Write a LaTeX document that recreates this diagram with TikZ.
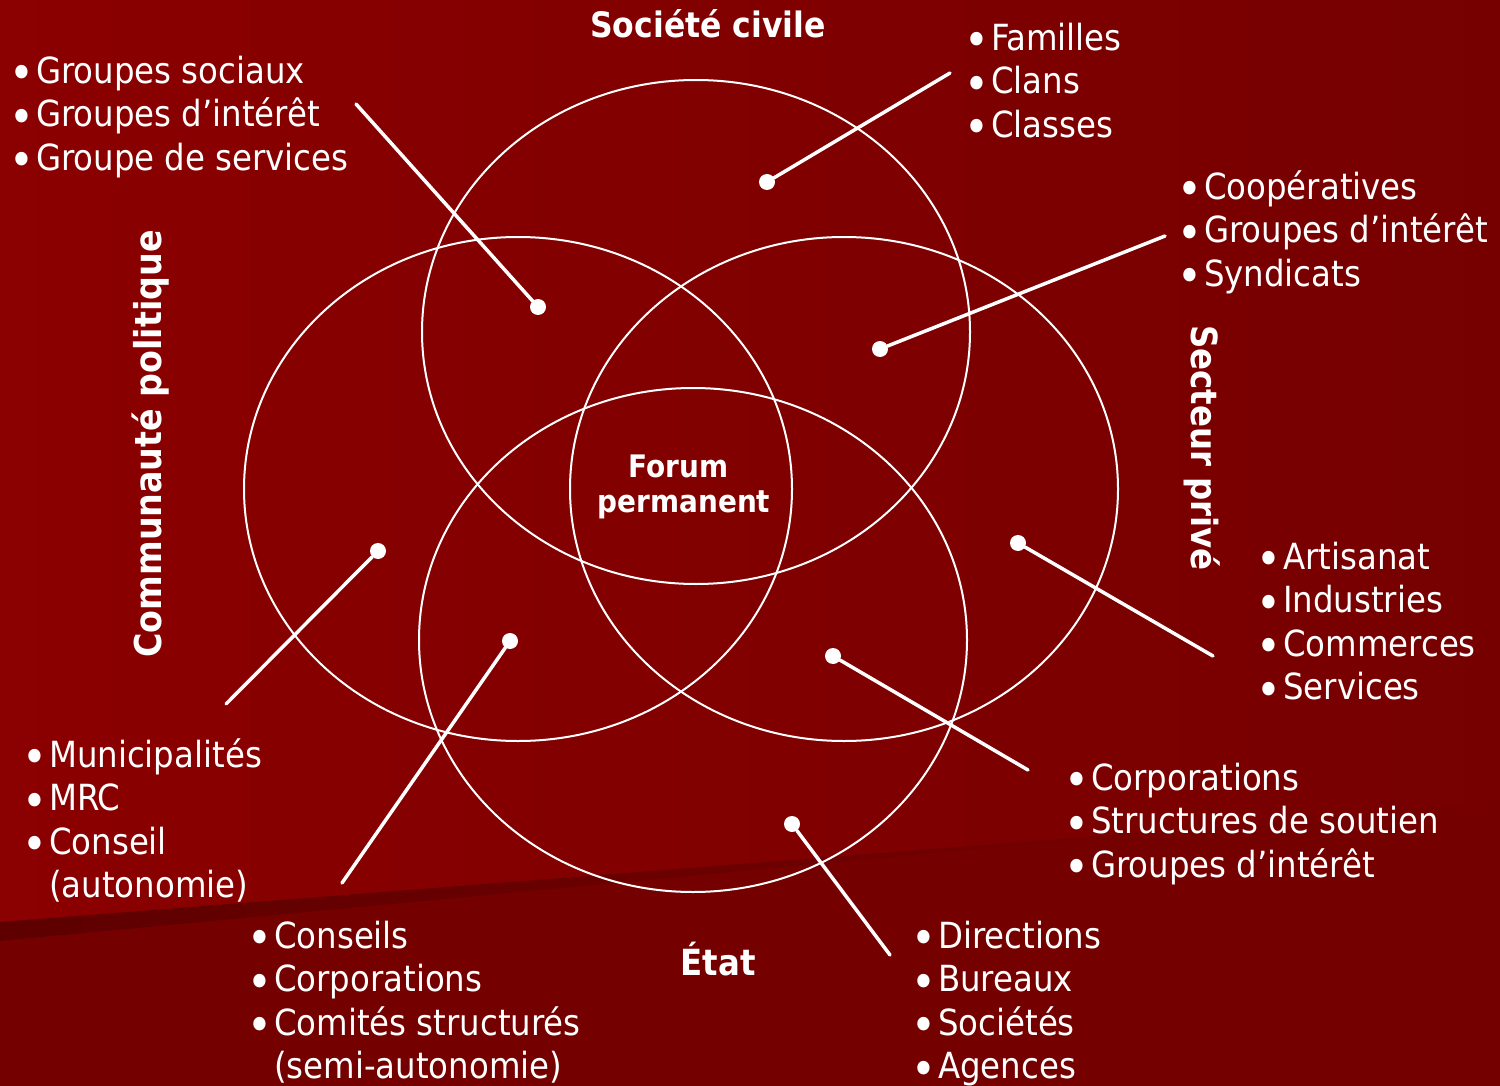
\documentclass[tikz,border=0pt]{standalone}
\usepackage{fontspec}
\setmainfont{DejaVu Sans Condensed}
\definecolor{bgL}{HTML}{8B0000}
\definecolor{bgM}{HTML}{7C0000}
\definecolor{bgR}{HTML}{760000}
\definecolor{bgLow}{HTML}{740000}
\definecolor{bandD}{HTML}{5E0000}
\newcommand{\bl}{\makebox[27pt][l]{\raisebox{-6.5pt}{\scalebox{1.3}{•}}}}
\newcommand{\ind}{\hspace*{27pt}}
\begin{document}
\begin{tikzpicture}[x=1pt,y=-1pt,
  ring/.style={draw=white, line width=2pt},
  link/.style={draw=white, line width=3.5pt, line cap=round},
  pin/.style={circle, fill=white, inner sep=0pt, minimum size=16pt},
  lst/.style={anchor=north west, inner sep=0pt, align=left, text=white,
    font=\fontsize{36}{43.5}\selectfont},
  ttl/.style={inner sep=0pt, text=white, anchor=base,
    font=\bfseries\fontsize{36}{40}\selectfont},
]
\useasboundingbox (0,0) rectangle (1500,1086);
% background
\shade[left color=bgL, middle color=bgM, right color=bgR] (0,0) rectangle (1500,1086);
\fill[bgLow] (0,941) -- (1200,828) -- (1500,800) -- (1500,1086) -- (0,1086) -- cycle;
\shade[left color=bandD, right color=bgLow] (0,922) -- (1200,828) -- (0,941) -- cycle;
% ellipses
\draw[ring] (696,332) ellipse [x radius=274pt, y radius=252pt];
\draw[ring] (518,489) ellipse [x radius=274pt, y radius=252pt];
\draw[ring] (844,489) ellipse [x radius=274pt, y radius=252pt];
\draw[ring] (693,640) ellipse [x radius=274pt, y radius=252pt];
% titles
\node[ttl, font=\bfseries\fontsize{35}{40}\selectfont] (tsoc) at (708,38) {Société civile};
\node[ttl] (tetat) at (718,975) {État};
\node[ttl, rotate=90, font=\bfseries\fontsize{37}{40}\selectfont] (tcom) at (161.5,444) {Communauté politique};
\node[ttl, rotate=-90] (tsec) at (1191,448) {Secteur privé};
\node[inner sep=0pt, text=white, anchor=north, align=center,
  font=\bfseries\fontsize{31}{35}\selectfont] (forum) at (684,452.5) {\strut Forum\hspace*{11pt}\\permanent};
% lists
\node[lst] (l1) at (9,52.5) {\strut\bl Groupes sociaux\\\bl Groupes d’intérêt\\\bl Groupe de services};
\node[lst] (l2) at (964,19.5) {\strut\bl Familles\\\bl Clans\\\bl Classes};
\node[lst] (l3) at (1177,168.5) {\strut\bl Coopératives\\\bl Groupes d’intérêt\\\bl Syndicats};
\node[lst] (l4) at (1256,538.5) {\strut\bl Artisanat\\\bl Industries\\\bl Commerces\\\bl Services};
\node[lst] (l5) at (1064,759.5) {\strut\bl Corporations\\\bl Structures de soutien\\\bl Groupes d’intérêt};
\node[lst] (l6) at (911,917.5) {\strut\bl Directions\\\bl Bureaux\\\bl Sociétés\\\bl Agences};
\node[lst] (l7) at (247,917.5) {\strut\bl Conseils\\\bl Corporations\\\bl Comités structurés\\\ind(semi-autonomie)};
\node[lst] (l8) at (22,736.5) {\strut\bl Municipalités\\\bl MRC\\\bl Conseil\\\ind(autonomie)};
% connector ends and dots
\coordinate (e1) at (356,104);
\coordinate (e2) at (950,73);
\coordinate (e3) at (1165,236);
\coordinate (e4) at (1213,656);
\coordinate (e5) at (1028,770);
\coordinate (e6) at (890,955);
\coordinate (e7) at (342,883);
\coordinate (e8) at (226,704);
\node[pin] (d1) at (538,307) {};
\node[pin] (d2) at (767,182) {};
\node[pin] (d3) at (880,349) {};
\node[pin] (d4) at (1018,543) {};
\node[pin] (d5) at (833,656) {};
\node[pin] (d6) at (792,824) {};
\node[pin] (d7) at (510,641) {};
\node[pin] (d8) at (378,551) {};
\foreach \i in {1,...,8} \draw[link] (e\i) -- (d\i);
\end{tikzpicture}
\end{document}
